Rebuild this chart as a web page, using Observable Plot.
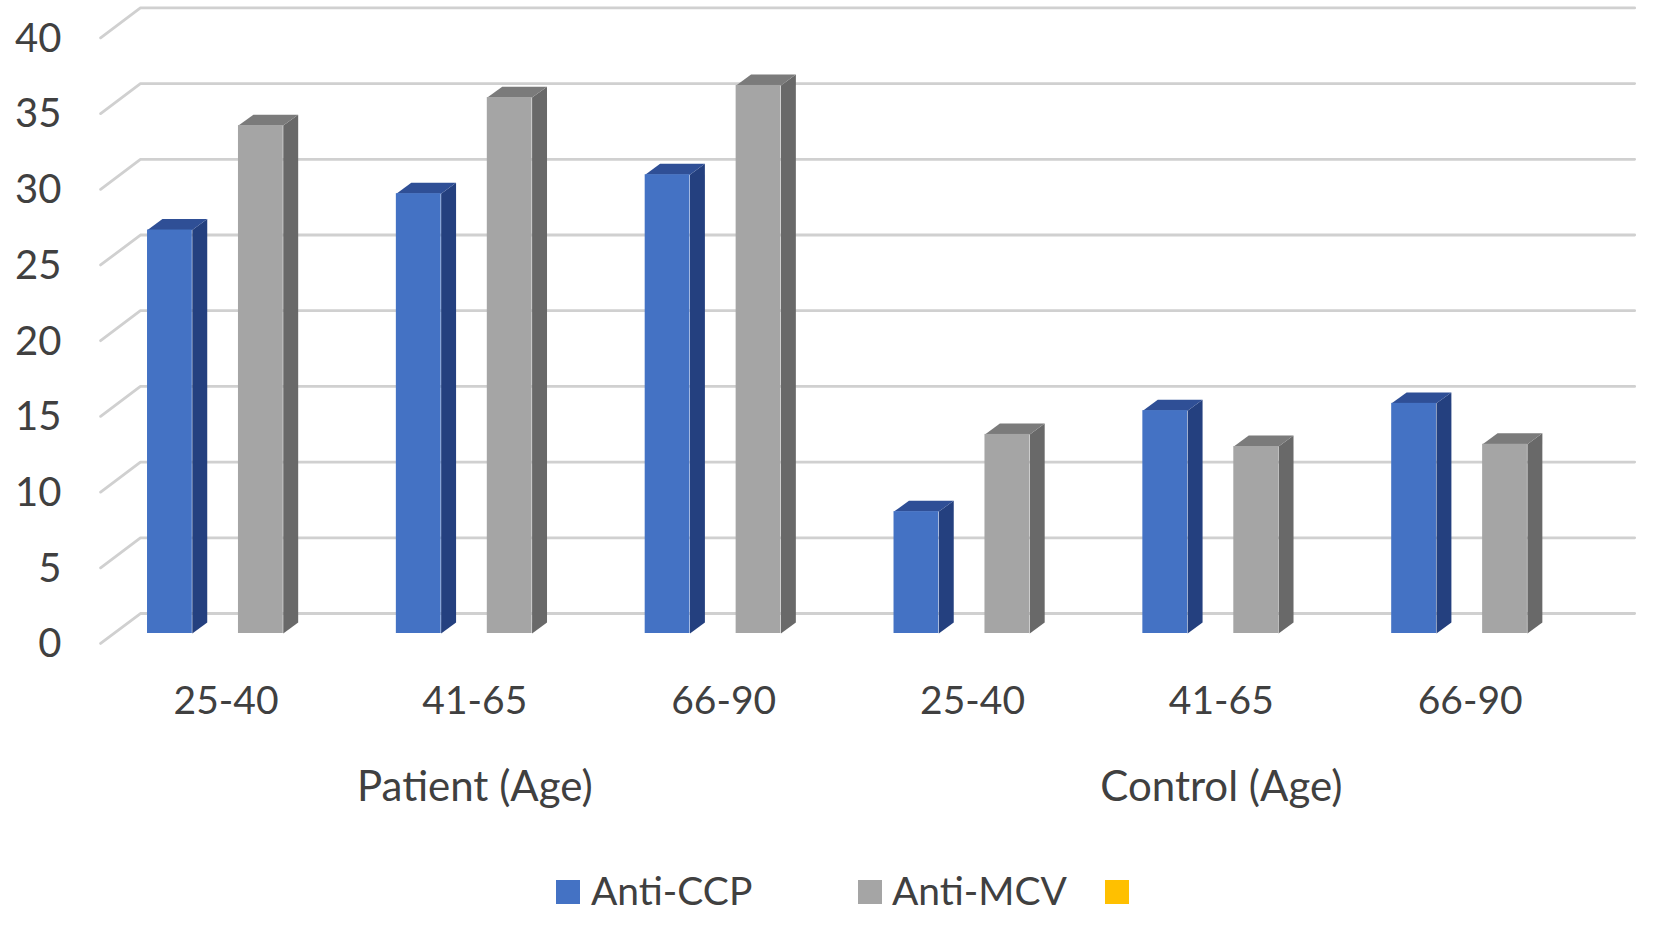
<!DOCTYPE html>
<html><head><meta charset="utf-8">
<script src="https://cdn.jsdelivr.net/npm/d3@7"></script>
<script src="https://cdn.jsdelivr.net/npm/@observablehq/plot@0.6"></script>
<style>
html,body{margin:0;padding:0;background:#fff;overflow:hidden}
svg{display:block}
#legend{position:relative;height:90px;width:1654px;font-family:Lato,sans-serif;font-size:39px;color:#404040}
#legend span{position:absolute;line-height:39px;top:25px;white-space:nowrap}
#legend i{position:absolute;width:24px;height:24px;top:34px}
</style></head><body>
<div id="chart"></div>
<div id="legend"></div>
<script>
const ageLabels = ["25-40","41-65","66-90","25-40","41-65","66-90"];
const groupLabels = ["Patient (Age)","Control (Age)"];
const antiCCP = [26.65,29.05,30.3,8.05,14.72,15.2];
const antiMCV = [33.55,35.4,36.2,13.15,12.35,12.5];
const yTicks = [0,5,10,15,20,25,30,35,40];

const W=1654,H=846;
const colors={ccp:{front:"#4472c4",side:"#24407f",top:"#2f4f96"},mcv:{front:"#a5a5a5",side:"#696969",top:"#7b7b7b"}};
// geometry in scale units
const barWidth=0.18, ccpLeft=-0.3235, mcvLeft=0.042, dX=0.06, dY=0.72;
const wallDY=1.32, frontDY=-0.66, floorLeft=-0.512, wallLeft=-0.352, wallRight=5.653;

const bars=[];
ageLabels.forEach((a,i)=>{
  bars.push({k:"ccp",id:"c"+i,l:i+ccpLeft,v:antiCCP[i]});
  bars.push({k:"mcv",id:"m"+i,l:i+mcvLeft,v:antiMCV[i]});
});
const sidePts=[],topPts=[];
for(const b of bars){
  const r=b.l+barWidth;
  sidePts.push({...b,x:r,y:0},{...b,x:r+dX,y:dY},{...b,x:r+dX,y:b.v+dY},{...b,x:r,y:b.v});
  topPts.push({...b,x:b.l,y:b.v},{...b,x:b.l+dX,y:b.v+dY},{...b,x:r+dX,y:b.v+dY},{...b,x:r,y:b.v});
}
const gridPts=yTicks.flatMap(t=>[{t,x:floorLeft,y:t+frontDY},{t,x:wallLeft,y:t+wallDY},{t,x:wallRight,y:t+wallDY}]);
const font="Lato,sans-serif";
const plot=Plot.plot({
  width:W,height:H,margin:0,marginLeft:61,
  style:{background:"#fff",fontFamily:font,color:"#404040"},
  x:{domain:[-0.5,5.5],range:[103.1,1596.1],axis:null},
  y:{domain:[0,40],range:[633,27.4],axis:null},
  marks:[
    Plot.line(gridPts,{x:"x",y:"y",z:"t",stroke:"#d0d0d0",strokeWidth:2.8}),
    Plot.axisY(yTicks,{anchor:"left",tickSize:0,tickPadding:0,dy:11,label:null,fontSize:40,fill:"#404040",tickFormat:d=>String(d)}),
    ...["ccp","mcv"].flatMap(k=>[
      Plot.line(sidePts.filter(d=>d.k===k),{x:"x",y:"y",z:"id",fill:colors[k].side,stroke:"none"}),
      Plot.line(topPts.filter(d=>d.k===k),{x:"x",y:"y",z:"id",fill:colors[k].top,stroke:"none"}),
      Plot.rect(bars.filter(d=>d.k===k),{x1:"l",x2:d=>d.l+barWidth,y1:()=>0,y2:"v",fill:colors[k].front})
    ]),
    Plot.text(ageLabels.map((t,i)=>({t,i})),{x:"i",y:()=>0,dx:-2,dy:68,text:"t",fontSize:39,fill:"#404040"}),
    Plot.text(groupLabels.map((t,i)=>({t,i:1+i*3})),{x:"i",y:()=>0,dx:-2,dy:154,text:"t",fontSize:42,fill:"#404040"})
  ]
});
document.getElementById("chart").append(plot);
const legendItems=[["Anti-CCP",colors.ccp.front,556,591],["Anti-MCV",colors.mcv.front,858,892],["","#ffc000",1105,0]];
const lg=document.getElementById("legend");
for(const [t,c,sx,tx] of legendItems){
  const i=document.createElement("i");i.style.left=sx+"px";i.style.background=c;lg.append(i);
  if(t){const s=document.createElement("span");s.textContent=t;s.style.left=tx+"px";lg.append(s);}
}
</script></body></html>
